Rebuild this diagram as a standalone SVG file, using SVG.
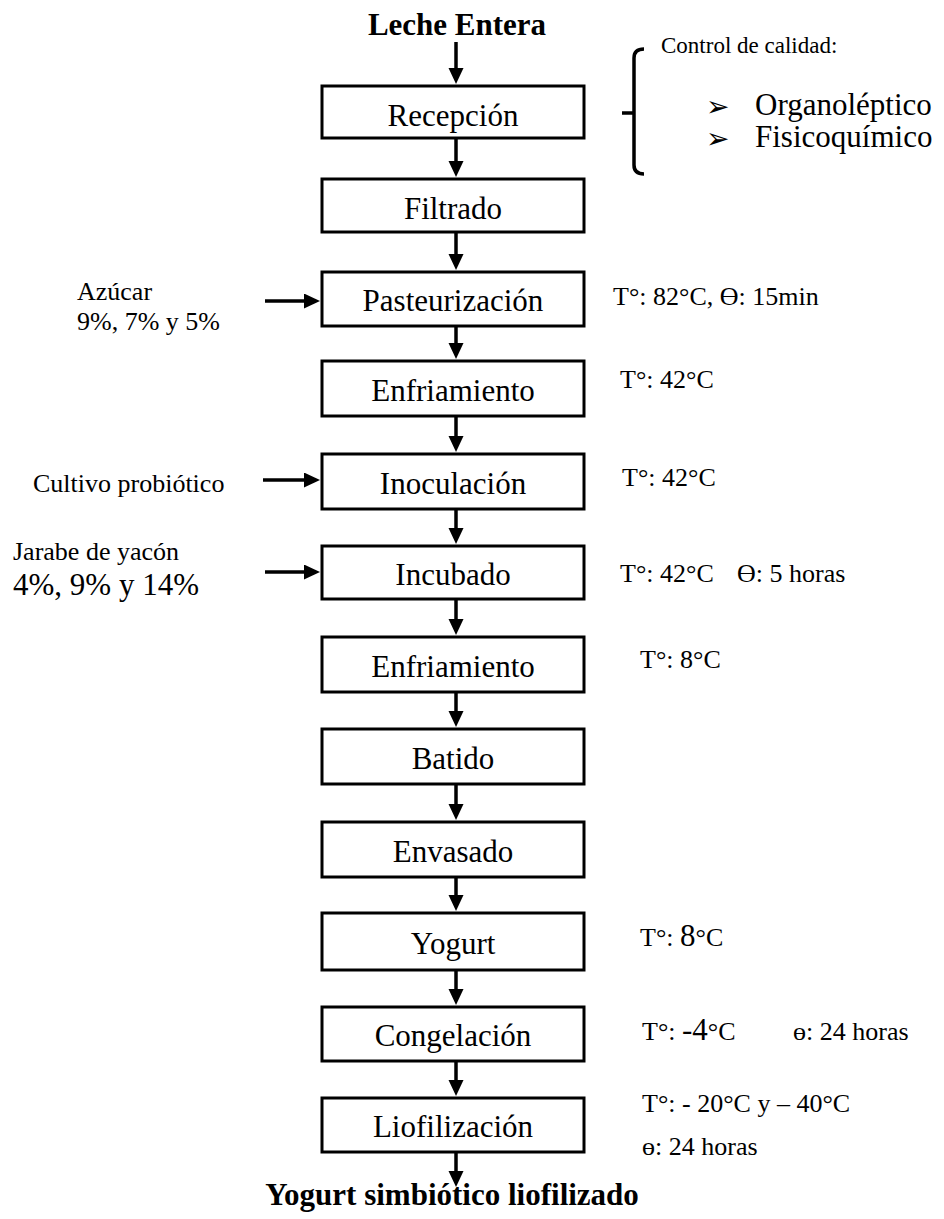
<svg xmlns="http://www.w3.org/2000/svg" width="944" height="1219" viewBox="0 0 944 1219">
  <style>
    .box { fill: #fff; stroke: #000; stroke-width: 3; }
    .lbl { font-family: "Liberation Serif", "DejaVu Serif", serif; font-size: 31px; fill: #000; text-anchor: middle; }
    .ttl { font-family: "Liberation Serif", "DejaVu Serif", serif; font-size: 31px; font-weight: bold; fill: #000; text-anchor: middle; }
    .note { font-family: "Liberation Serif", "DejaVu Serif", serif; font-size: 26px; fill: #000; }
    .big { font-size: 31px; }
    .bul { font-family: "DejaVu Sans", sans-serif; font-size: 28px; fill: #000; }
    .flow { stroke: #000; stroke-width: 3.5; fill: none; marker-end: url(#head); }
    .brace { stroke: #000; stroke-width: 3.5; fill: none; }
  </style>
  <defs>
    <marker id="head" markerUnits="userSpaceOnUse" markerWidth="17" markerHeight="16" refX="4" refY="7.5" orient="auto">
      <path d="M0,0 L16,7.5 L0,15 z" fill="#000"/>
    </marker>
  </defs>
  <rect width="944" height="1219" fill="#fff"/>

  <!-- start / end titles -->
  <g id="leche-entera"><text class="ttl" x="457" y="35">Leche Entera</text></g>
  <g id="yogurt-liofilizado"><text class="ttl" x="452" y="1205">Yogurt simbiótico liofilizado</text></g>

  <!-- process steps -->
  <g id="recepcion"><rect class="box" x="322" y="86" width="262" height="52"/><text class="lbl" x="453" y="126">Recepción</text></g>
  <g id="filtrado"><rect class="box" x="322" y="179" width="262" height="53"/><text class="lbl" x="453" y="219">Filtrado</text></g>
  <g id="pasteurizacion"><rect class="box" x="322" y="272" width="262" height="54"/><text class="lbl" x="453" y="311">Pasteurización</text></g>
  <g id="enfriamiento-1"><rect class="box" x="322" y="361" width="262" height="55"/><text class="lbl" x="453" y="401">Enfriamiento</text></g>
  <g id="inoculacion"><rect class="box" x="322" y="454" width="262" height="55"/><text class="lbl" x="453" y="494">Inoculación</text></g>
  <g id="incubado"><rect class="box" x="322" y="546" width="262" height="53"/><text class="lbl" x="453" y="585">Incubado</text></g>
  <g id="enfriamiento-2"><rect class="box" x="322" y="637" width="262" height="55"/><text class="lbl" x="453" y="677">Enfriamiento</text></g>
  <g id="batido"><rect class="box" x="322" y="729" width="262" height="55"/><text class="lbl" x="453" y="769">Batido</text></g>
  <g id="envasado"><rect class="box" x="322" y="822" width="262" height="55"/><text class="lbl" x="453" y="862">Envasado</text></g>
  <g id="yogurt"><rect class="box" x="322" y="913" width="262" height="57"/><text class="lbl" x="453" y="954">Yogurt</text></g>
  <g id="congelacion"><rect class="box" x="322" y="1007" width="262" height="54"/><text class="lbl" x="453" y="1046">Congelación</text></g>
  <g id="liofilizacion"><rect class="box" x="322" y="1098" width="262" height="54"/><text class="lbl" x="453" y="1137">Liofilización</text></g>

  <!-- quality control note -->
  <g id="control-calidad">
    <path class="brace" d="M644,49 Q634,49 634,58 L634,165 Q634,174 644,174 M634,113 L622,113"/>
    <text class="note" x="661" y="53" style="font-size:23px">Control de calidad:</text>
    <text class="bul" x="706" y="116">➢</text>
    <text class="note big" x="755" y="115">Organoléptico</text>
    <text class="bul" x="706" y="148">➢</text>
    <text class="note big" x="755" y="147">Fisicoquímico</text>
  </g>

  <!-- inputs -->
  <g id="azucar">
    <text class="note" x="77" y="300">Azúcar</text>
    <text class="note" x="77" y="330">9%, 7% y 5%</text>
  </g>
  <g id="cultivo"><text class="note" x="33" y="492">Cultivo probiótico</text></g>
  <g id="jarabe">
    <text class="note" x="13" y="560">Jarabe de yacón</text>
    <text class="note big" x="13" y="595">4%, 9% y 14%</text>
  </g>

  <!-- process conditions -->
  <g id="cond-pasteurizacion"><text class="note" x="613" y="305">T°: 82°C, ϴ: 15min</text></g>
  <g id="cond-enfriamiento-1"><text class="note" x="620" y="388">T°: 42°C</text></g>
  <g id="cond-inoculacion"><text class="note" x="622" y="486">T°: 42°C</text></g>
  <g id="cond-incubado"><text class="note" x="620" y="582">T°: 42°C<tspan x="737">ϴ: 5 horas</tspan></text></g>
  <g id="cond-enfriamiento-2"><text class="note" x="640" y="668">T°: 8°C</text></g>
  <g id="cond-yogurt"><text class="note" x="640" y="946">T°: <tspan class="big">8</tspan>°C</text></g>
  <g id="cond-congelacion"><text class="note" x="642" y="1040">T°: <tspan class="big">-4</tspan>°C<tspan x="793">ɵ: 24 horas</tspan></text></g>
  <g id="cond-liofilizacion">
    <text class="note" x="642" y="1112">T°: - 20°C y – 40°C</text>
    <text class="note" x="642" y="1155">ɵ: 24 horas</text>
  </g>

  <!-- connectors -->
  <g id="connectors">
    <line class="flow" x1="456" y1="42" x2="456" y2="72"/>
    <line class="flow" x1="456" y1="139" x2="456" y2="165"/>
    <line class="flow" x1="456" y1="233" x2="456" y2="258"/>
    <line class="flow" x1="456" y1="327" x2="456" y2="347"/>
    <line class="flow" x1="456" y1="417" x2="456" y2="440"/>
    <line class="flow" x1="456" y1="510" x2="456" y2="532"/>
    <line class="flow" x1="456" y1="600" x2="456" y2="623"/>
    <line class="flow" x1="456" y1="693" x2="456" y2="715"/>
    <line class="flow" x1="456" y1="785" x2="456" y2="808"/>
    <line class="flow" x1="456" y1="878" x2="456" y2="899"/>
    <line class="flow" x1="456" y1="971" x2="456" y2="993"/>
    <line class="flow" x1="456" y1="1062" x2="456" y2="1084"/>
    <line class="flow" x1="456" y1="1153" x2="456" y2="1175"/>
    <line class="flow" x1="265" y1="301" x2="308" y2="301"/>
    <line class="flow" x1="263" y1="480" x2="308" y2="480"/>
    <line class="flow" x1="265" y1="572" x2="308" y2="572"/>
  </g>
</svg>
